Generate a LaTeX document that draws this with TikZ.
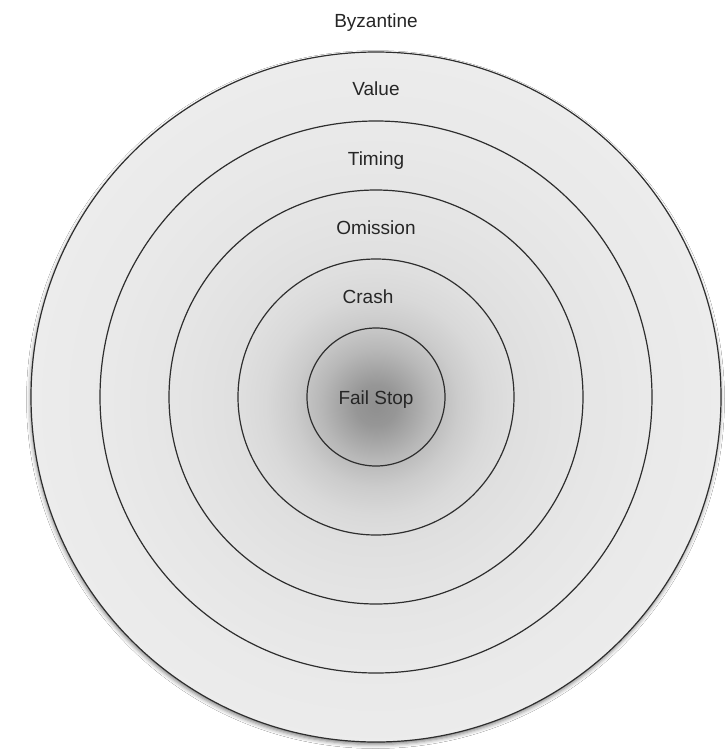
\documentclass[tikz,border=0pt]{standalone}
\usepackage{fontspec}
\setmainfont{Liberation Sans}
\usetikzlibrary{shadows.blur}

\definecolor{ringline}{HTML}{2E2E2E}
\definecolor{labeltext}{HTML}{262626}

% one radial gradient over the whole disc: dark core, pale rim
% (50bp corresponds to the outer radius)
\pgfdeclareradialshading{faultcore}{\pgfpoint{0bp}{-0.6bp}}{%
  color(0bp)=(black!44);
  color(1.5bp)=(black!41);
  color(4bp)=(black!28);
  color(6bp)=(black!20);
  color(8bp)=(black!15);
  color(10bp)=(black!12.5);
  color(14bp)=(black!10.5);
  color(20bp)=(black!8.5);
  color(30bp)=(black!6.5);
  color(40bp)=(black!5);
  color(50bp)=(black!5.5);
  color(71bp)=(black!5.5)}

\tikzset{
  ring/.style={circle, draw=ringline, line width=1.2pt, inner sep=0pt, outer sep=0pt},
  lbl/.style={anchor=base, text=labeltext, font=\fontsize{19}{22}\selectfont, inner sep=0pt}
}

\begin{document}
\begin{tikzpicture}[x=1pt, y=-1pt]
  \fill[white] (0,0) rectangle (725,750);
  \useasboundingbox (0,0) rectangle (725,750);
  \coordinate (c) at (376,397);

  % nested fault classes, outermost first
  \node[ring, minimum size=690pt, shading=faultcore,
        blur shadow={shadow xshift=-0.5pt, shadow yshift=-2.5pt,
                     shadow blur radius=4pt, shadow opacity=50}] (byz) at (c) {};
  \node[ring, minimum size=552pt] (val) at (c) {};
  \node[ring, minimum size=414pt] (tim) at (c) {};
  \node[ring, minimum size=276pt] (omi) at (c) {};
  \node[ring, minimum size=138pt] (cra) at (c) {};

  % class names
  \node[lbl] (tbyz) at (376,27)  {Byzantine};
  \node[lbl] (tval) at (376,95)  {Value};
  \node[lbl] (ttim) at (376,165) {Timing};
  \node[lbl] (tomi) at (376,234) {Omission};
  \node[lbl] (tcra) at (368,303) {Crash};
  \node[lbl] (tfs)  at (376,404) {Fail Stop};
\end{tikzpicture}
\end{document}
